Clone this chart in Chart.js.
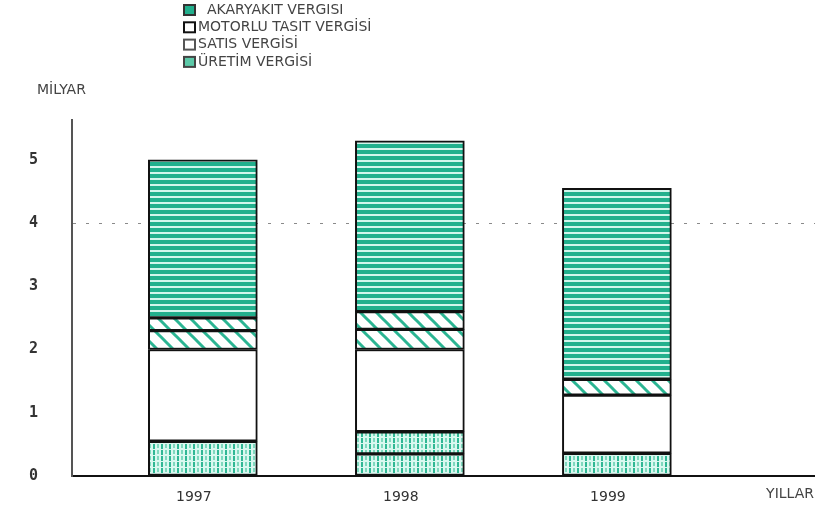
<!DOCTYPE html>
<html>
<head>
<meta charset="utf-8">
<script src="https://cdn.jsdelivr.net/npm/chart.js"></script>
<style>
  html, body { margin: 0; padding: 0; background: #fff; }
  #wrap { position: relative; width: 815px; height: 511px; }
</style>
</head>
<body>
<div id="wrap"><canvas id="chart" width="815" height="511"></canvas></div>
<script>
// years on the x axis
const years = [1997, 1998, 1999];
const yTicks = [0, 1, 2, 3, 4, 5];
// values in milyar, bottom of stack first
const uretim = [0.55, 0.35, 0.36];
const uretimEk = [0, 0.35, 0];       // second Üretim block (1998)
const satis = [1.45, 1.3, 0.92];
const motorlu = [0.3, 0.32, 0.25];
const motorluEk = [0.2, 0.28, 0];    // second Motorlu block
const akaryakit = [2.5, 2.7, 3.02];

const GREEN = '#22b08d';

function makePattern(kind) {
  const c = document.createElement('canvas');
  const g = c.getContext('2d');
  if (kind === 'horiz') {
    c.width = 8; c.height = 6;
    g.fillStyle = '#d2f6ec'; g.fillRect(0, 0, 8, 6);
    g.fillStyle = GREEN; g.fillRect(0, 0, 8, 4);
  } else if (kind === 'diag') {
    const s = 16;
    c.width = s; c.height = s;
    g.fillStyle = '#ffffff'; g.fillRect(0, 0, s, s);
    g.strokeStyle = '#2bb593'; g.lineWidth = 3;
    for (let k = -1; k <= 1; k++) {
      g.beginPath();
      g.moveTo(k * s - 2, -2);
      g.lineTo(k * s + s + 2, s + 2);
      g.stroke();
    }
  } else if (kind === 'vert') {
    c.width = 8; c.height = 6;
    g.fillStyle = '#d9f8f0'; g.fillRect(0, 0, 8, 6);
    g.fillStyle = '#2fb794'; g.fillRect(1, 0, 2, 5);
    g.fillStyle = '#7fd8be'; g.fillRect(5, 0, 2, 4);
  }
  return g.createPattern(c, 'repeat');
}

const pHoriz = makePattern('horiz');
const pDiag = makePattern('diag');
const pVert = makePattern('vert');

const pts = arr => arr.map((v, i) => ({ x: years[i], y: v }));

function ds(label, arr, fill) {
  return {
    label: label,
    data: pts(arr),
    backgroundColor: fill,
    borderColor: '#111',
    borderWidth: 2,
    borderSkipped: false,
    barThickness: 109,
    stack: 's'
  };
}

const datasets = [
  ds('ÜRETİM VERGİSİ', uretim, pVert),
  ds('ÜRETİM VERGİSİ (2)', uretimEk, pVert),
  ds('SATIS VERGİSİ', satis, '#ffffff'),
  ds('MOTORLU TASIT VERGİSİ', motorlu, pDiag),
  ds('MOTORLU TASIT VERGİSİ (2)', motorluEk, pDiag),
  ds('AKARYAKIT VERGISI', akaryakit, pHoriz)
];

// legend rows, drawn top to bottom
const legendRows = [
  { text: 'AKARYAKIT VERGISI', fill: GREEN, stroke: '#333' },
  { text: 'MOTORLU TASIT VERGİSİ', fill: '#ffffff', stroke: '#111' },
  { text: 'SATIS VERGİSİ', fill: '#ffffff', stroke: '#555' },
  { text: 'ÜRETİM VERGİSİ', fill: '#5cc9a8', stroke: '#444' }
];

const FONT = '"DejaVu Sans", Verdana, sans-serif';

const extras = {
  id: 'extras',
  afterDraw(chart) {
    const ctx = chart.ctx;
    ctx.save();
    ctx.textBaseline = 'middle';
    ctx.textAlign = 'left';
    ctx.font = '14px ' + FONT;
    legendRows.forEach((r, i) => {
      const y = 10 + i * 17.3;
      ctx.fillStyle = r.fill;
      ctx.fillRect(184, y - 5, 11, 10);
      ctx.strokeStyle = r.stroke;
      ctx.lineWidth = 2;
      ctx.strokeRect(184, y - 5, 11, 10);
      ctx.fillStyle = '#444';
      ctx.fillText(r.text, i === 0 ? 207 : 198, y);
    });
    ctx.fillStyle = '#444';
    ctx.fillText('MİLYAR', 37, 90);
    ctx.textAlign = 'right';
    ctx.fillText('YILLAR', 814, 494);
    ctx.restore();
  }
};

new Chart(document.getElementById('chart'), {
  type: 'bar',
  data: { datasets: datasets },
  plugins: [extras],
  options: {
    responsive: false,
    animation: false,
    layout: { padding: { top: 120, right: 0, left: 0, bottom: 0 } },
    plugins: {
      legend: { display: false },
      tooltip: { enabled: false }
    },
    scales: {
      x: {
        type: 'linear',
        offset: false,
        stacked: true,
        min: 1996.368,
        max: 1999.957,
        afterBuildTicks: s => { s.ticks = years.map(v => ({ value: v })); },
        afterFit: s => { s.height = 35; s.paddingLeft = 0; s.paddingRight = 0; },
        grid: { display: false, drawTicks: false, offset: false },
        border: { display: true, color: '#111', width: 2 },
        ticks: {
          padding: 13,
          labelOffset: -9,
          color: '#333',
          font: { family: FONT, size: 14 },
          callback: v => String(v)
        }
      },
      y: {
        stacked: true,
        min: 0,
        max: 5.63,
        afterBuildTicks: s => { s.ticks = yTicks.map(v => ({ value: v })); },
        afterFit: s => { s.width = 72; s.paddingTop = 0; s.paddingBottom = 0; },
        grid: {
          drawTicks: false,
          color: c => (c.tick && c.tick.value === 4 ? '#8a8a8a' : 'rgba(0,0,0,0)'),
          lineWidth: 1
        },
        border: { display: true, color: '#555', width: 2, dash: [3, 10] },
        ticks: {
          padding: 34,
          color: '#333',
          font: { family: '"DejaVu Sans Mono", monospace', size: 15, weight: 'bold' }
        }
      }
    }
  }
});
</script>
</body>
</html>
